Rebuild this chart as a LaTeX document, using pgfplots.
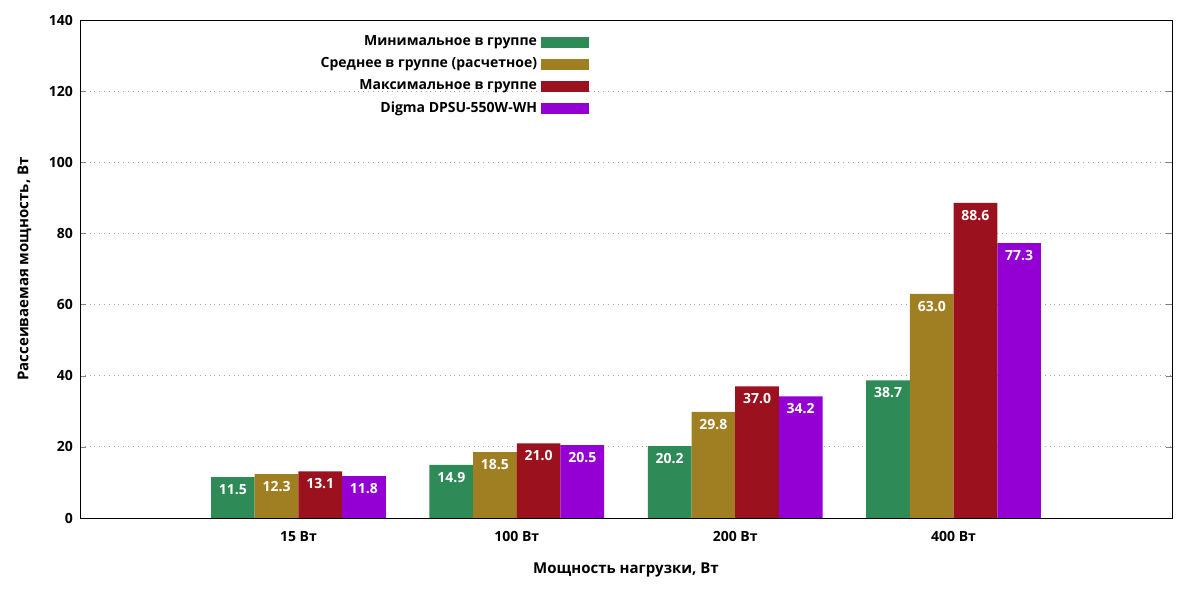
\documentclass[border=0pt]{standalone}
\usepackage{pgfplots}
\pgfplotsset{compat=1.18}
\usepackage{fontspec}
\setmainfont{Open Sans}
\definecolor{cA}{HTML}{2E8B57}
\definecolor{cB}{HTML}{A07E22}
\definecolor{cC}{HTML}{9B111E}
\definecolor{cD}{HTML}{9400D3}
\begin{document}
\begin{tikzpicture}[x=1pt,y=1pt]
\begin{axis}[at={(40pt,41pt)},anchor=south west,
 scale only axis, width=546pt, height=249pt,
 ybar=0pt, bar width=0.2,
 xmin=-1, xmax=4, ymin=0, ymax=140,
 xtick={0,1,2,3}, xticklabels={15 Вт,100 Вт,200 Вт,400 Вт},
 ytick={0,20,...,140},
 major tick length=3pt,
 xtick style={draw=none},
 ymajorgrids, grid style={dotted,gray!70},
 tick label style={font=\fontsize{7}{8}\selectfont\bfseries},
 /pgf/number format/assume math mode=true,
 xlabel={Мощность нагрузки, Вт}, ylabel={Рассеиваемая мощность, Вт},
 label style={font=\fontsize{7.5}{9}\selectfont\bfseries},
 xlabel style={yshift=-4pt},
 ylabel style={yshift=2pt},
 nodes near coords, 
 every node near coord/.append style={anchor=north,text=white,font=\fontsize{7}{8}\selectfont\bfseries,/pgf/number format/.cd,fixed,fixed zerofill,precision=1,assume math mode=true},
 legend style={at={(0.472,0.985)},anchor=north east,draw=none,fill=none,font=\fontsize{7}{8}\selectfont\bfseries,row sep=0.5pt},
 legend cell align=right, legend plot pos=right,
 legend image code/.code={\fill[#1] (0pt,-2.8pt) rectangle (24pt,2.8pt);},
]
\addplot[fill=cA,draw=none] coordinates {(0,11.5) (1,14.9) (2,20.2) (3,38.7)};
\addplot[fill=cB,draw=none] coordinates {(0,12.3) (1,18.5) (2,29.8) (3,63.0)};
\addplot[fill=cC,draw=none] coordinates {(0,13.1) (1,21.0) (2,37.0) (3,88.6)};
\addplot[fill=cD,draw=none] coordinates {(0,11.8) (1,20.5) (2,34.2) (3,77.3)};
\legend{Минимальное в группе,Среднее в группе (расчетное),Максимальное в группе,Digma DPSU-550W-WH}
\end{axis}
\pgfresetboundingbox
\path[use as bounding box] (0pt,0pt) rectangle (600pt,300pt);
\end{tikzpicture}
\end{document}
